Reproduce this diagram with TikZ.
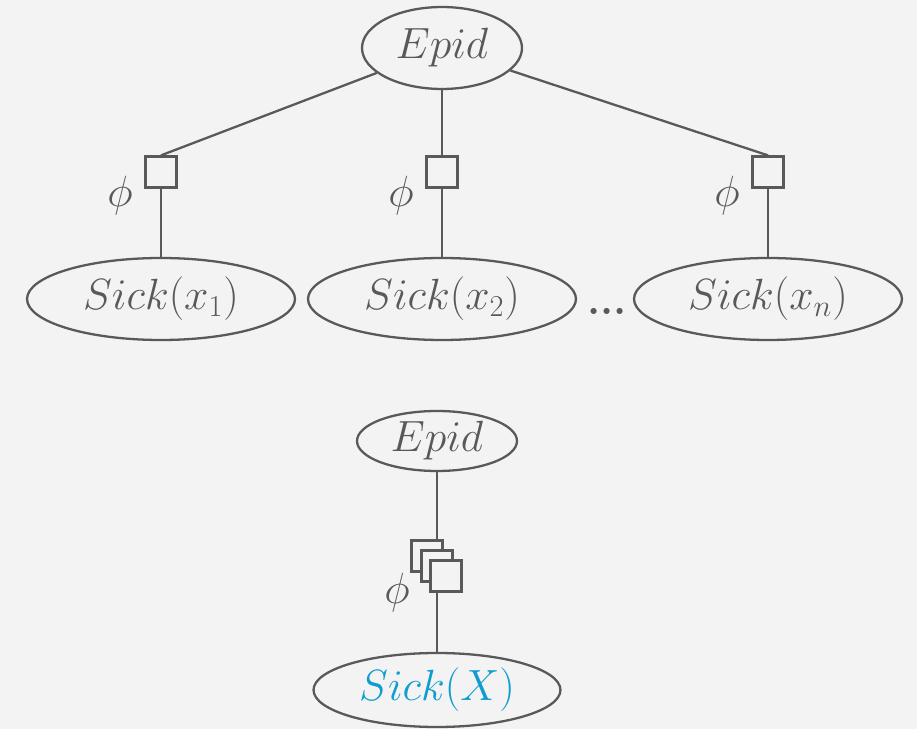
\documentclass[tikz,border=0pt]{standalone}
\usepackage{amssymb, amsmath}
\usetikzlibrary{shapes.geometric}

\definecolor{inkgray}{HTML}{595959}
\definecolor{bggray}{HTML}{F3F3F3}
\definecolor{sickblue}{HTML}{0E9DCF}

\tikzset{
	var/.style={ellipse, draw=inkgray, line width=1.3pt, inner sep=0pt, text=inkgray, font=\fontsize{26}{30}\selectfont},
	factor/.style={rectangle, draw=inkgray, line width=1.3pt, fill=bggray, minimum size=0.62cm, inner sep=0pt},
	philabel/.style={text=inkgray, font=\fontsize{26}{30}\selectfont},
	edge/.style={draw=inkgray, line width=1.3pt}
}

\begin{document}
\begin{tikzpicture}[x=0.02cm, y=-0.02cm]
	\fill[bggray] (0,0) rectangle (917,729);
	\useasboundingbox (0,0) rectangle (917,729);

	% grounded network
	\node[var, minimum width=3.2cm, minimum height=1.64cm] (epid) at (442,48) {$Epid$};
	\node[factor] (f1) at (161,172) {};
	\node[factor] (f2) at (442,172) {};
	\node[factor] (fn) at (768,172) {};
	\node[var, minimum width=5.36cm, minimum height=1.64cm] (s1) at (161,299) {$Sick(x_1)$};
	\node[var, minimum width=5.36cm, minimum height=1.64cm] (s2) at (442,299) {$Sick(x_2)$};
	\node[var, minimum width=5.36cm, minimum height=1.64cm] (sn) at (768,299) {$Sick(x_n)$};
	\node[text=inkgray, font=\fontsize{24}{28}\selectfont\bfseries, anchor=base] (dots) at (607,315) {...};

	\draw[edge] (epid) -- (f1.north);
	\draw[edge] (epid) -- (f2.north);
	\draw[edge] (epid) -- (fn.north);
	\draw[edge] (f1) -- (s1);
	\draw[edge] (f2) -- (s2);
	\draw[edge] (fn) -- (sn);

	\node[philabel] (phi1) at (120,196) {$\phi$};
	\node[philabel] (phi2) at (401,196) {$\phi$};
	\node[philabel] (phin) at (727,196) {$\phi$};

	% lifted version
	\node[var, minimum width=3.2cm, minimum height=1.2cm] (epidl) at (437,441) {$Epid$};
	\node[var, minimum width=4.94cm, minimum height=1.48cm, text=sickblue] (sickx) at (437,690) {$Sick(X)$};
	\draw[edge] (epidl) -- (sickx);
	\node[factor] (fa) at (427,556) {};
	\node[factor] (fb) at (437,566) {};
	\node[factor] (fc) at (446,576) {};
	\node[philabel] (phil) at (397,593) {$\phi$};
\end{tikzpicture}
\end{document}
